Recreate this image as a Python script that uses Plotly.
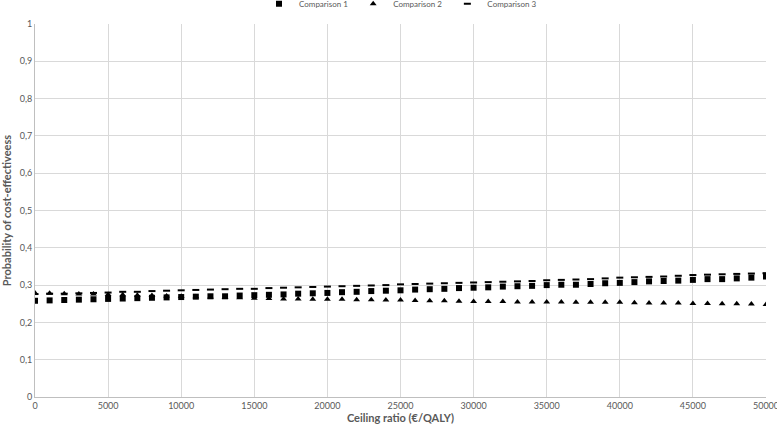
import plotly.graph_objects as go

ceiling = list(range(0, 50001, 1000))

comp1 = [0.258, 0.259, 0.260, 0.261, 0.262, 0.263, 0.264, 0.265, 0.266, 0.267,
         0.268, 0.269, 0.270, 0.270, 0.272, 0.273, 0.274, 0.275, 0.277, 0.278,
         0.279, 0.281, 0.282, 0.284, 0.285, 0.286, 0.288, 0.289, 0.290, 0.292,
         0.293, 0.294, 0.296, 0.297, 0.298, 0.300, 0.301, 0.301, 0.303, 0.305,
         0.306, 0.308, 0.310, 0.311, 0.312, 0.314, 0.316, 0.316, 0.318, 0.320,
         0.323]
comp2 = [0.279, 0.278, 0.277, 0.276, 0.276, 0.275, 0.274, 0.273, 0.272, 0.271,
         0.270, 0.269, 0.268, 0.267, 0.266, 0.265, 0.264, 0.263, 0.263, 0.262,
         0.262, 0.262, 0.261, 0.261, 0.260, 0.260, 0.259, 0.258, 0.258, 0.257,
         0.256, 0.256, 0.256, 0.255, 0.255, 0.255, 0.255, 0.254, 0.254, 0.254,
         0.254, 0.253, 0.252, 0.252, 0.252, 0.251, 0.251, 0.250, 0.250, 0.249,
         0.248]
comp3 = [0.276, 0.277, 0.277, 0.278, 0.279, 0.280, 0.282, 0.282, 0.284, 0.285,
         0.286, 0.287, 0.288, 0.289, 0.290, 0.290, 0.292, 0.293, 0.294, 0.295,
         0.296, 0.297, 0.298, 0.299, 0.300, 0.302, 0.303, 0.304, 0.305, 0.306,
         0.307, 0.308, 0.309, 0.310, 0.311, 0.313, 0.314, 0.315, 0.316, 0.318,
         0.320, 0.321, 0.322, 0.323, 0.325, 0.327, 0.328, 0.329, 0.330, 0.331,
         0.332]

y_ticks = [0, 0.1, 0.2, 0.3, 0.4, 0.5, 0.6, 0.7, 0.8, 0.9, 1]
y_labels = ["0", "0,1", "0,2", "0,3", "0,4", "0,5", "0,6", "0,7", "0,8", "0,9", "1"]
x_ticks = [0, 5000, 10000, 15000, 20000, 25000, 30000, 35000, 40000, 45000, 50000]

fig = go.Figure()
fig.add_trace(go.Scatter(x=ceiling, y=comp1, mode="markers", name="Comparison 1",
                         marker=dict(symbol="square", size=6, color="black")))
fig.add_trace(go.Scatter(x=ceiling, y=comp2, mode="markers", name="Comparison 2",
                         marker=dict(symbol="triangle-up", size=6, color="black")))
fig.add_trace(go.Scatter(x=ceiling, y=comp3, mode="markers", name="Comparison 3",
                         marker=dict(symbol="line-ew", size=5, color="black",
                                     line=dict(color="black", width=2))))

font = "Lato, Open Sans, sans-serif"
fig.update_layout(
    width=777, height=432,
    margin=dict(l=35, r=11, t=24, b=35, autoexpand=False),
    paper_bgcolor="white", plot_bgcolor="white",
    font=dict(family=font, size=9, color="#595959"),
    showlegend=True,
    legend=dict(orientation="h", x=0.5, xanchor="center", y=1.054, yanchor="middle",
                font=dict(size=8, color="#595959"),
                itemwidth=30, tracegroupgap=0, bgcolor="rgba(0,0,0,0)", borderwidth=0),
    xaxis=dict(range=[0, 50000], tickvals=x_ticks, tickformat="d",
               showgrid=True, gridcolor="#d9d9d9", gridwidth=1,
               showline=True, linecolor="#bfbfbf", zeroline=False,
               ticks="", tickfont=dict(size=9, color="#595959"),
               ticklabeloverflow="allow", automargin=True,
               title=dict(text="<b>Ceiling ratio (€/QALY)</b>",
                          font=dict(size=11, color="#595959"), standoff=1)),
    yaxis=dict(range=[0, 1], tickvals=y_ticks, ticktext=y_labels,
               showgrid=True, gridcolor="#d9d9d9", gridwidth=1,
               showline=True, linecolor="#bfbfbf", zeroline=False,
               ticks="", tickfont=dict(size=9, color="#595959"),
               automargin=True,
               title=dict(text="<b>Probability of cost-effectiveess</b>",
                          font=dict(size=11, color="#595959"), standoff=18)),
)

fig.write_html("out.html", config={"displayModeBar": False},
               post_script="document.body.style.margin='0';document.body.style.overflow='hidden';")
